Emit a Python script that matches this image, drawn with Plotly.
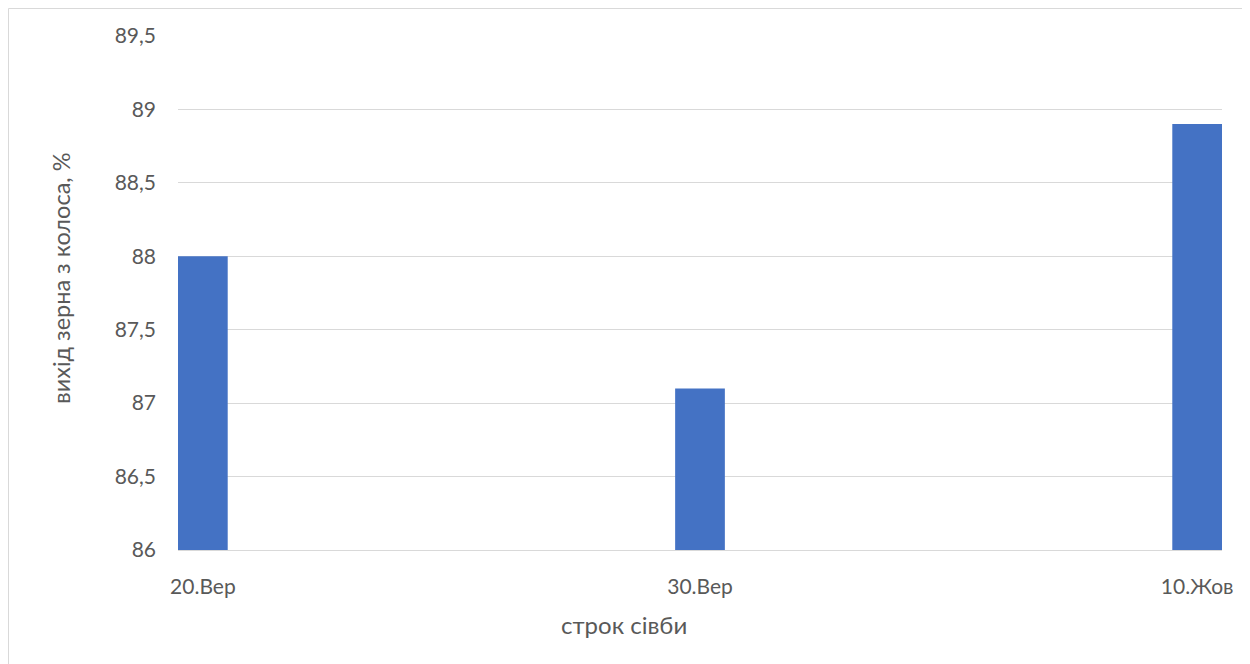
import plotly.graph_objects as go

categories = ["20.Вер", "30.Вер", "10.Жов"]
day_offsets = [0, 10, 20]          # days from 20 Sept (date axis spacing)
values = [88.0, 87.1, 88.9]
y_ticks = [86, 86.5, 87, 87.5, 88, 88.5, 89, 89.5]
y_tick_labels = ["86", "86,5", "87", "87,5", "88", "88,5", "89", "89,5"]

FONT = "Lato"
GREY = "#595959"

# page body has an 8px margin: plot area target on screen is x 178..1222, y 36..550
OFF = 8
PL, PR, PT, PB = 178 - OFF, 1222 - OFF, 36 - OFF, 550 - OFF
W, H = 1250 - OFF, 664 - OFF
PW, PH = PR - PL, PB - PT

fig = go.Figure()
fig.add_trace(go.Bar(
    x=day_offsets, y=values, width=1,
    marker=dict(color="#4472C4", line=dict(width=0)),
))

fig.update_layout(
    width=W, height=H,
    margin=dict(l=PL, r=W - PR, t=PT, b=H - PB),
    paper_bgcolor="white", plot_bgcolor="white",
    showlegend=False,
    font=dict(family=FONT, color=GREY, size=21),
    xaxis=dict(
        range=[-0.5, 20.5],
        tickmode="array", tickvals=day_offsets, ticktext=categories,
        showgrid=False, zeroline=False,
        showline=True, linecolor="#D9D9D9", linewidth=1,
        ticks="", tickfont=dict(size=21, color=GREY), ticklabelstandoff=18,
    ),
    yaxis=dict(
        range=[86, 89.5],
        tickmode="array", tickvals=y_ticks, ticktext=y_tick_labels,
        showgrid=True, gridcolor="#D9D9D9", gridwidth=1,
        zeroline=False, showline=False, ticks="",
        tickfont=dict(size=21, color=GREY), ticklabelstandoff=21,
    ),
    annotations=[
        dict(text="вихід зерна з колоса, %", xref="paper", yref="paper",
             x=(61 - 178) / 1044, y=(550 - 278) / 514, textangle=-90, showarrow=False,
             xanchor="center", yanchor="middle",
             font=dict(size=23.5, color=GREY, family=FONT)),
        dict(text="строк сівби", xref="paper", yref="paper",
             x=(623.5 - 178) / 1044, y=(550 - 624) / 514, showarrow=False,
             xanchor="center", yanchor="middle",
             font=dict(size=24, color=GREY, family=FONT)),
    ],
    shapes=[
        dict(type="rect", xref="paper", yref="paper",
             x0=(8.5 - 178) / 1044, x1=(1246 - 178) / 1044,
             y0=(550 - 667) / 514, y1=1 + (36 - 8.5) / 514,
             line=dict(color="#D9D9D9", width=1), fillcolor="rgba(0,0,0,0)",
             layer="below"),
    ],
)

fig.write_html("out.html")
